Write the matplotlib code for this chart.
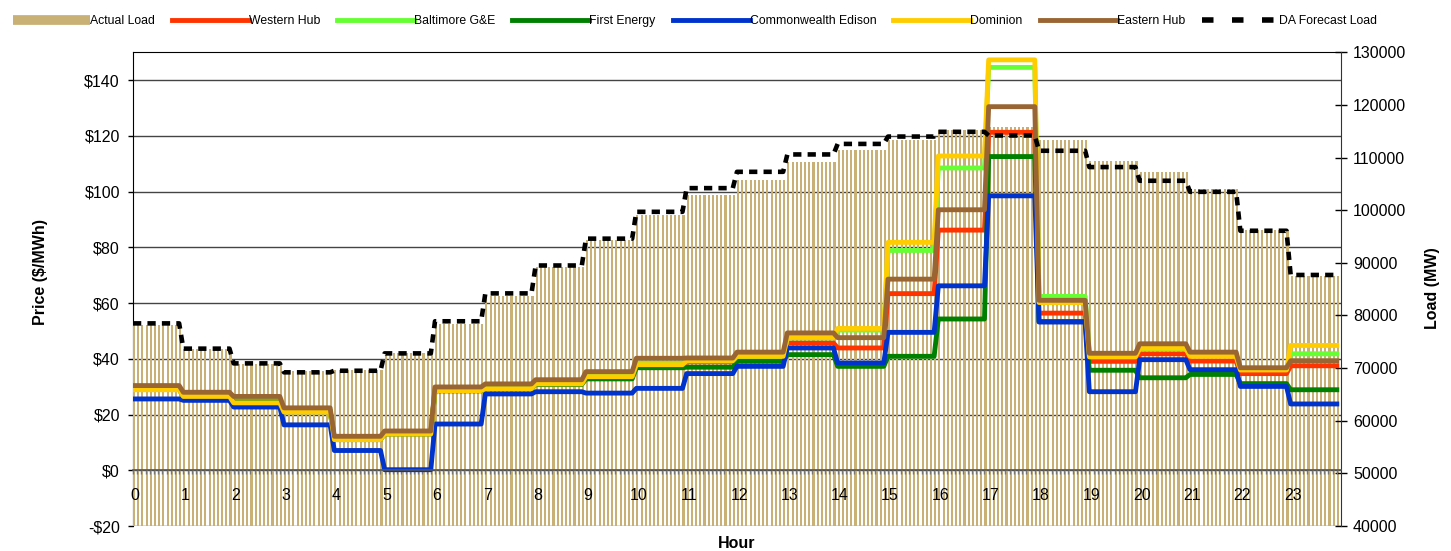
import matplotlib
matplotlib.use('Agg')
import matplotlib.pyplot as plt
from matplotlib.lines import Line2D
from matplotlib.ticker import FuncFormatter
import numpy as np

plt.rcParams['font.family'] = ['Liberation Sans', 'DejaVu Sans']

hours = list(range(24))
steps_per_hour = 12  # 5-minute intervals

actual_load = [78200, 73700, 70800, 69400, 69700, 72900, 78400, 83700, 89200, 94300, 99000, 102800,
               105700, 109100, 111400, 113400, 115200, 115800, 113400, 109300, 107200, 104100, 96200, 87500]
da_forecast = [78500, 73700, 70900, 69200, 69500, 72800, 78900, 84200, 89500, 94600, 99700, 104200,
               107300, 110600, 112600, 114000, 114900, 114200, 111300, 108200, 105600, 103500, 96100, 87700]

western_hub = [29.5, 27.0, 25.0, 21.5, 11.5, 13.5, 29.0, 30.0, 31.5, 34.0, 38.0, 38.9,
               40.5, 45.7, 43.9, 63.4, 86.2, 121.3, 56.4, 39.1, 41.8, 39.2, 34.7, 37.5]
baltimore = [29.0, 26.8, 25.6, 21.3, 11.3, 13.3, 28.8, 29.5, 31.2, 34.0, 38.5, 39.3,
             40.8, 47.5, 50.3, 78.9, 108.5, 144.6, 62.4, 41.5, 43.5, 41.3, 36.2, 41.8]
first_energy = [29.0, 26.5, 24.5, 21.0, 11.0, 13.0, 28.5, 29.2, 30.8, 32.8, 36.8, 37.0,
                39.1, 41.5, 37.3, 40.9, 54.3, 112.6, 53.4, 35.9, 33.2, 34.4, 31.1, 28.9]
commonwealth = [25.6, 25.1, 22.7, 16.3, 7.1, 0.2, 16.6, 27.4, 28.2, 27.7, 29.4, 34.7,
                37.3, 43.9, 38.5, 49.5, 66.2, 98.5, 53.2, 28.2, 39.7, 36.1, 30.1, 23.8]
dominion = [28.9, 26.5, 24.2, 20.9, 11.0, 13.0, 28.6, 29.3, 31.0, 33.6, 37.9, 39.3,
            40.9, 47.7, 50.9, 81.8, 112.8, 147.3, 60.2, 40.7, 43.8, 40.9, 36.0, 44.8]
eastern_hub = [30.4, 28.0, 26.5, 22.4, 12.2, 14.1, 29.9, 31.0, 32.5, 35.4, 40.2, 40.3,
               42.4, 49.3, 47.6, 68.6, 93.5, 130.5, 61.0, 42.0, 45.4, 42.4, 36.8, 39.3]

price_series = [
    ('Western Hub', western_hub, '#FF3300'),
    ('Baltimore G&E', baltimore, '#66FF33'),
    ('First Energy', first_energy, '#008000'),
    ('Commonwealth Edison', commonwealth, '#0033CC'),
    ('Dominion', dominion, '#FFCC00'),
    ('Eastern Hub', eastern_hub, '#996633'),
]
load_color = '#C9B074'

# 5-minute x positions, hourly values held constant within each hour
x5 = np.arange(len(hours) * steps_per_hour) / steps_per_hour

W, H = 1451, 551
fig = plt.figure(figsize=(W / 100, H / 100), dpi=100)
rect = [133 / W, 25 / H, 1208 / W, 473.65 / H]

# base layer: price axis + grid
ax = fig.add_axes(rect)
ax.set_xlim(0, 24)
ax.set_ylim(-20, 150)
ax.set_yticks(range(-20, 141, 20))
ax.yaxis.set_major_formatter(FuncFormatter(lambda v, p: f'-${abs(v):.0f}' if v < 0 else f'${v:.0f}'))
ax.grid(axis='y', color='#444444', lw=1)
ax.set_axisbelow(True)
ax.tick_params(axis='y', direction='out', length=3.6, width=1, pad=5.8, labelsize=11.5)
ax.tick_params(axis='x', which='both', bottom=False, labelbottom=False)
ax.spines['bottom'].set_visible(False)
ax.spines['right'].set_visible(False)
ax.set_ylabel('Price ($/MWh)', fontsize=11.5, fontweight='bold')
ax.yaxis.set_label_coords(-0.0704, 0.536)
ax.set_xlabel('Hour', fontsize=11.5, fontweight='bold')
ax.xaxis.set_label_coords(0.5, -0.022)
ax.set_zorder(1)

# load bars
axl = ax.twinx()
axl.bar(x5, np.repeat(actual_load, steps_per_hour), width=0.5 / steps_per_hour,
        align='edge', color=load_color, linewidth=0, antialiased=False)
axl.set_ylim(40000, 130000)
axl.set_yticks(range(40000, 130001, 10000))
axl.tick_params(axis='y', direction='inout', length=8.4, width=1, pad=4.4, labelsize=11.5)
for s in ['top', 'left', 'bottom']:
    axl.spines[s].set_visible(False)
axl.spines['right'].set_color('#333333')
axl.set_ylabel('Load (MW)', fontsize=11.5, fontweight='bold')
axl.yaxis.set_label_coords(1.0695, 0.5025)
axl.set_zorder(2)

# price lines
axp = ax.twinx()
axp.set_ylim(-20, 150)
axp.yaxis.set_visible(False)
axp.xaxis.set_visible(True)
for s in ['top', 'left', 'right']:
    axp.spines[s].set_visible(False)
axp.spines['bottom'].set_position(('data', 0))
axp.spines['bottom'].set_color('#555555')
axp.spines['bottom'].set_linewidth(1.2)
for name, vals, color in price_series:
    axp.plot(x5, np.repeat(vals, steps_per_hour), color=color, lw=3.5, label=name,
             solid_joinstyle='round')
axp.set_xticks(np.array(hours) + 0.5 / steps_per_hour)
axp.set_xticklabels([str(h) for h in hours])
axp.set_xticks(x5, minor=True)
axp.tick_params(axis='x', which='major', length=0, pad=13, labelsize=11.5)
axp.tick_params(axis='x', which='minor', direction='out', length=3, width=1, color='#777777')
axp.set_xlim(0, 24)
axp.set_zorder(3)

# DA forecast on top
axd = ax.twinx()
axd.set_ylim(40000, 130000)
axd.axis('off')
da_style = (0, (1.8, 1.35))
axd.plot(x5, np.repeat(da_forecast, steps_per_hour), color='black', lw=3.3, ls=da_style)
axd.set_zorder(4)

handles = [Line2D([], [], color=load_color, lw=7, solid_capstyle='butt')]
labels = ['Actual Load']
for name, vals, color in price_series:
    handles.append(Line2D([], [], color=color, lw=3.5))
    labels.append(name)
handles.append(Line2D([], [], color='black', lw=4, ls=(0, (2.07, 3.33))))
labels.append('DA Forecast Load')
fig.legend(handles, labels, ncol=8, loc='center left', bbox_to_anchor=(13 / W, 1 - 21 / H),
           frameon=False, fontsize=8.8, handlelength=6.3, handletextpad=0.0,
           columnspacing=1.39, borderpad=0, borderaxespad=0)

fig.savefig('out.png', dpi=100)
